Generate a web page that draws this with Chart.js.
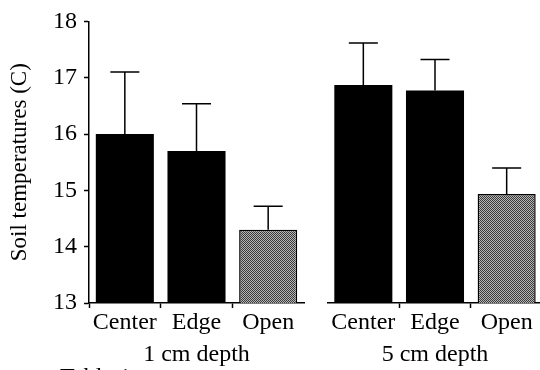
<!DOCTYPE html>
<html>
<head>
<meta charset="utf-8">
<script src="https://cdn.jsdelivr.net/npm/chart.js@4.4.1/dist/chart.umd.min.js"></script>
<style>
  body { margin: 0; background: #fff; }
  #wrap { position: relative; width: 540px; height: 370px; overflow: hidden; background: #fff; }
  #c1 { position: absolute; left: 0; top: 0; }
  #c2 { position: absolute; left: 300px; top: 0; }
  #note { position: absolute; left: 60px; top: 364px; font: 24px "Liberation Serif", serif; line-height: 24px; color: #000; }
</style>
</head>
<body>
<div id="wrap">
  <canvas id="c1" width="310" height="370"></canvas>
  <canvas id="c2" width="250" height="370"></canvas>
  <div id="note">Table 1</div>
</div>
<script>
// data
const categories = ["Center", "Edge", "Open"];
const depth1Means = [16.0, 15.7, 14.3];
const depth1Errors = [1.1, 0.84, 0.42];
const depth5Means = [16.8, 16.7, 14.9];
const depth5Errors = [0.73, 0.54, 0.45];
const yTicksMin = 13, yTicksMax = 18;

const serif = '"Liberation Serif", "Times New Roman", serif';

// stippled gray fill for the "Open" bars
function makeStipple() {
  var pc = document.createElement("canvas");
  pc.width = 2;
  pc.height = 2;
  var p = pc.getContext("2d");
  p.fillStyle = "#b5b5b5";
  p.fillRect(0, 0, 2, 2);
  p.fillStyle = "#3a3a3a";
  p.fillRect(0, 0, 1, 1);
  p.fillRect(1, 1, 1, 1);
  return p.createPattern(pc, "repeat");
}
const stipple = makeStipple();

// one-sided error bars drawn on top of bars
const errorBars = {
  id: "errorBars",
  afterDatasetsDraw(chart) {
    const ctx = chart.ctx;
    const ds = chart.data.datasets[0];
    const meta = chart.getDatasetMeta(0);
    const y = chart.scales.y;
    ctx.save();
    ctx.strokeStyle = "#000";
    ctx.lineWidth = 1.5;
    meta.data.forEach(function (bar, i) {
      const top = y.getPixelForValue(ds.data[i] + ds.errors[i]);
      const half = bar.width / 4;
      ctx.beginPath();
      ctx.moveTo(bar.x, bar.y);
      ctx.lineTo(bar.x, top);
      ctx.moveTo(bar.x - half, top);
      ctx.lineTo(bar.x + half, top);
      ctx.stroke();
    });
    ctx.restore();
  },
};

function makeChart(id, means, errors, title, showY, padding, firstTick) {
  return new Chart(document.getElementById(id), {
    type: "bar",
    data: {
      labels: categories,
      datasets: [
        {
          data: means,
          errors: errors,
          backgroundColor: ["#000", "#000", stipple],
          borderColor: "#000",
          borderWidth: [0, 0, 1.5],
          borderSkipped: false,
          barPercentage: 0.81,
          categoryPercentage: 1,
        },
      ],
    },
    plugins: [errorBars],
    options: {
      responsive: false,
      animation: false,
      layout: { padding: padding },
      plugins: { legend: { display: false }, tooltip: { enabled: false } },
      scales: {
        x: {
          offset: true,
          grid: {
            offset: true,
            drawOnChartArea: false,
            tickLength: 5,
            tickColor: function (c) {
              if (c.index === 0) return firstTick ? "#000" : "transparent";
              return c.index > 0 ? "#000" : "transparent";
            },
            tickWidth: 1.5,
          },
          border: { color: "#000", width: 1.5 },
          ticks: { color: "#000", font: { family: serif, size: 24 }, padding: 0, maxRotation: 0, autoSkip: false },
          title: {
            display: true,
            text: title,
            color: "#000",
            font: { family: serif, size: 24 },
            padding: { top: 0, bottom: 1 },
          },
          afterFit: function (s) { s.height = 67; },
        },
        y: {
          display: showY,
          min: yTicksMin,
          max: yTicksMax,
          grid: { drawOnChartArea: false, tickLength: 5, color: "#000", tickWidth: 1.5 },
          border: { color: "#000", width: 1.5 },
          ticks: {
            stepSize: 0.5,
            color: "#000",
            padding: 7,
            font: { family: serif, size: 24 },
            callback: function (v) { return Number.isInteger(v) ? v : ""; },
          },
          title: {
            display: true,
            text: "Soil temperatures (C)",
            color: "#000",
            font: { family: serif, size: 23 },
            padding: { top: 6.4, bottom: 0 },
          },
          afterFit: function (s) { s.width = showY ? 89 : 0; },
        },
      },
    },
  });
}

makeChart("c1", depth1Means, depth1Errors, "1 cm depth", true, { top: 16, right: 6, left: 0, bottom: 0 }, true);
makeChart("c2", depth5Means, depth5Errors, "5 cm depth", false, { top: 16, right: 7.5, left: 27.5, bottom: 0 }, false);
</script>
</body>
</html>
